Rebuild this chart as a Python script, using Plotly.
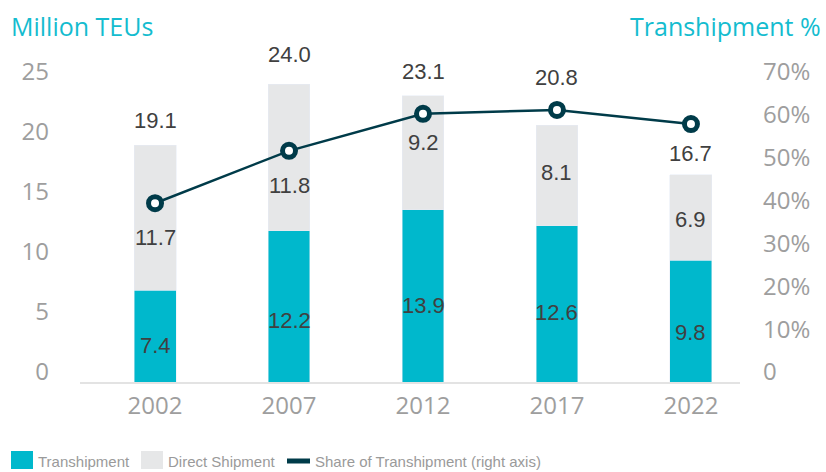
import plotly.graph_objects as go

years = ["2002", "2007", "2012", "2017", "2022"]
transhipment = [7.4, 12.2, 13.9, 12.6, 9.8]
direct = [11.7, 11.8, 9.2, 8.1, 6.9]
totals = [19.1, 24.0, 23.1, 20.8, 16.7]
share_pct = [38.7, 51.0, 59.7, 60.6, 57.3]

left_ticks = [0, 5, 10, 15, 20, 25]
right_ticks = [0, 10, 20, 30, 40, 50, 60, 70]
right_ticktext = ["0", "10%", "20%", "30%", "40%", "50%", "60%", "70%"]

# manual label nudges (px) as placed in the original
nudge_total = [25, 30, 24, 47, 21]
nudge_trans = [-9, -14, -10, -9, -11]
nudge_direct = [-20, -28, 10, 3, -2]

TEAL = "#00B8CC"
GREY = "#E6E7E8"
DARK = "#003B49"
TITLE = "#14BCCF"
TICK = "#9E9E9E"
LABEL = "#404040"

W, H = 826, 472
L, R, T, B = 80, 86, 60, 90
PH = H - T - B  # plot height px
PX_PER_UNIT = 12.4
RIGHT_PX_PER_PCT = 4.258

fig = go.Figure()
fig.add_trace(go.Bar(x=years, y=transhipment, marker_color=TEAL, width=0.313,
                     name="Transhipment", showlegend=False))
fig.add_trace(go.Bar(x=years, y=direct, marker_color=GREY, width=0.313,
                     name="Direct Shipment", showlegend=False))
fig.add_trace(go.Scatter(x=years, y=share_pct, yaxis="y2", mode="lines+markers",
                         line=dict(color=DARK, width=2.5),
                         marker=dict(size=13, color="white", line=dict(color=DARK, width=5)),
                         name="Share of Transhipment (right axis)", showlegend=False))
# empty traces to keep label-only axes alive
fig.add_trace(go.Scatter(x=[], y=[], yaxis="y3", showlegend=False))
fig.add_trace(go.Scatter(x=[], y=[], yaxis="y4", showlegend=False))

fig.update_layout(
    width=W, height=H, barmode="stack",
    margin=dict(l=L, r=R, t=T, b=B),
    paper_bgcolor="white", plot_bgcolor="white",
    showlegend=False,
    xaxis=dict(type="category", range=[-0.56, 4.366], showgrid=False,
               showline=True, linecolor="#E3E3E3", linewidth=2,
               tickfont=dict(family="Open Sans", size=24, color=TICK),
               ticks="", ticklabelstandoff=1),
    yaxis=dict(range=[0, PH / PX_PER_UNIT], showgrid=False, showticklabels=False,
               zeroline=False, showline=False),
    yaxis2=dict(overlaying="y", side="right",
                range=[-14 / RIGHT_PX_PER_PCT, -14 / RIGHT_PX_PER_PCT + PH / RIGHT_PX_PER_PCT],
                showgrid=False, showticklabels=False, zeroline=False),
    yaxis3=dict(overlaying="y", side="left", range=[-10 / 12, -10 / 12 + PH / 12],
                tickvals=left_ticks, showgrid=False, zeroline=False, ticks="",
                tickfont=dict(family="Open Sans", size=24, color=TICK),
                ticklabelstandoff=30),
    yaxis4=dict(overlaying="y", side="right",
                range=[-10 / (300 / 70), -10 / (300 / 70) + PH / (300 / 70)],
                tickvals=right_ticks, ticktext=right_ticktext,
                showgrid=False, zeroline=False, ticks="",
                tickfont=dict(family="Open Sans", size=24, color=TICK),
                ticklabelstandoff=22),
)

lab_font = dict(family="Liberation Sans, Arial", size=22, color=LABEL)
for i in range(len(years)):
    fig.add_annotation(x=i, y=totals[i], text=f"{totals[i]:.1f}", showarrow=False,
                       yshift=nudge_total[i], font=lab_font, yanchor="middle")
    fig.add_annotation(x=i, y=transhipment[i] / 2, text=f"{transhipment[i]:.1f}",
                       showarrow=False, yshift=nudge_trans[i], font=lab_font, yanchor="middle")
    fig.add_annotation(x=i, y=transhipment[i] + direct[i] / 2, text=f"{direct[i]:.1f}",
                       showarrow=False, yshift=nudge_direct[i], font=lab_font, yanchor="middle")

PW = W - L - R


def px_x(px):
    return (px - L) / PW


def px_y(py):
    return (H - B - py) / PH


title_font = dict(family="Open Sans", size=25, color=TITLE)
fig.add_annotation(xref="paper", yref="paper", x=px_x(9), y=px_y(26), text="Million TEUs",
                   showarrow=False, xanchor="left", yanchor="middle", font=title_font)
fig.add_annotation(xref="paper", yref="paper", x=px_x(823), y=px_y(26), text="Transhipment %",
                   showarrow=False, xanchor="right", yanchor="middle", font=title_font)

# custom legend
leg_font = dict(family="Liberation Sans, Arial", size=15, color="#9A9A9A")
leg_y = 460
items = [("rect", TEAL, 11, 33, "Transhipment", 36),
         ("rect", GREY, 141, 163, "Direct Shipment", 166),
         ("line", DARK, 287, 310, "Share of Transhipment (right axis)", 313)]
for kind, col, x0, x1, txt, tx in items:
    if kind == "rect":
        fig.add_shape(type="rect", xref="paper", yref="paper", x0=px_x(x0), x1=px_x(x1),
                      y0=px_y(leg_y + 9), y1=px_y(leg_y - 9), fillcolor=col, line_width=0)
    else:
        fig.add_shape(type="line", xref="paper", yref="paper", x0=px_x(x0), x1=px_x(x1),
                      y0=px_y(leg_y + 1), y1=px_y(leg_y + 1), line=dict(color=col, width=5))
    fig.add_annotation(xref="paper", yref="paper", x=px_x(tx), y=px_y(leg_y + 1), text=txt,
                       showarrow=False, xanchor="left", yanchor="middle", font=leg_font)

fig.write_html("out.html", config={"displayModeBar": False},
               post_script="document.body.style.margin='0';document.body.style.overflow='hidden';")
